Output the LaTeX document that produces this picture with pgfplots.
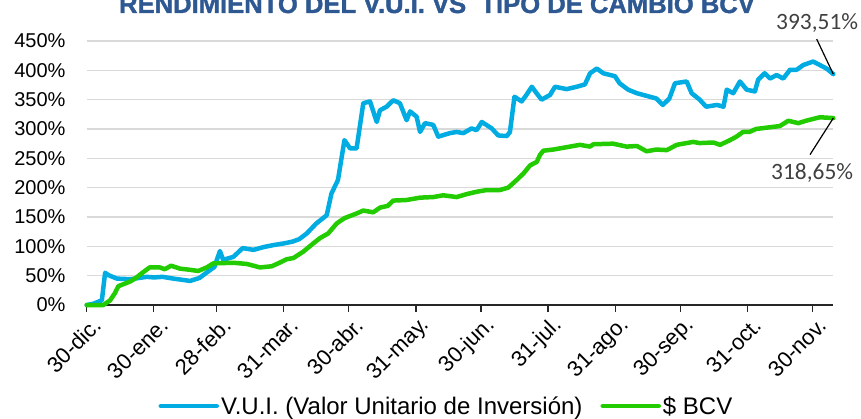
\documentclass[border=0pt]{standalone}
\usepackage{fontspec}
\setmainfont{Liberation Sans}
\newfontfamily\carlito{Carlito}
\newfontfamily\titlefont[FakeBold=1.5]{Liberation Sans Bold}
\usepackage{pgfplots}
\pgfplotsset{compat=1.18}
\definecolor{vuiblue}{RGB}{0,172,226}
\definecolor{bcvgreen}{RGB}{34,204,0}
\definecolor{titleblue}{RGB}{46,88,145}
\definecolor{gridgray}{RGB}{217,217,217}
\definecolor{annogray}{RGB}{64,64,64}
\begin{document}
\begin{tikzpicture}
\begin{axis}[
  at={(86.7pt,113pt)}, anchor=south west,
  scale only axis, width=746.6pt, height=264pt,
  xmin=0, xmax=344.7, ymin=0, ymax=450,
  clip=false,
  axis x line*=bottom, axis y line*=left,
  x axis line style={black!85, line width=1.4pt, -},
  y axis line style={draw=none},
  ymajorgrids, grid style={gridgray, line width=1.5pt},
  xtick={0,31,60,91,121,152,182,213,244,274,305,335},
  xticklabels={30-dic.,30-ene.,28-feb.,31-mar.,30-abr.,31-may.,30-jun.,31-jul.,31-ago.,30-sep.,31-oct.,30-nov.},
  ytick={0,50,100,150,200,250,300,350,400,450},
  yticklabels={0\%,50\%,100\%,150\%,200\%,250\%,300\%,350\%,400\%,450\%},
  tick align=outside, major tick length=7pt,
  xtick style={black!85, line width=1.2pt},
  ytick style={draw=none},
  tick label style={text=black},
  yticklabel style={font=\fontsize{20}{20}\selectfont, anchor=east, inner sep=0pt, xshift=-14pt},
  xticklabel style={font=\fontsize{22}{22}\selectfont, rotate=45, anchor=east, inner sep=0pt, yshift=-14.5pt, xshift=0.5pt},
  legend columns=2,
  legend style={at={(0.0959,-0.3826)}, anchor=west, draw=none, fill=none,
    inner sep=0pt, font=\fontsize{24}{24}\selectfont,
    /tikz/every even column/.append style={column sep=16pt}},
  legend image code/.code={\draw[#1, line cap=round] (0pt,0pt) -- (56pt,0pt);},
  every axis plot/.append style={line width=4.5pt, line join=round, line cap=round},
]
\addplot[vuiblue] coordinates {
(0,0) (3,2) (7,8) (8.5,55) (10,51) (13.9,45) (20,44) (24,46) (27.7,48) (31,47)
(35,48) (40,45) (44,43) (47.7,41) (52,46) (56,57) (59,65) (61.5,92) (63,77)
(67.7,82) (72,97) (77,94) (82,99) (86,102) (91,105) (95,108) (98,112) (101.6,122)
(106,139) (110.8,153) (113,190) (116,213) (119,281) (121.6,267) (124.6,267)
(127.7,344) (130.8,347) (133.9,312) (135.4,332) (138.5,338) (141.5,349) (144.6,344)
(147.7,315) (149.3,330) (152.3,321) (153.9,295) (156.2,310) (160,307) (162.3,287)
(167.7,293) (170.8,295) (173.9,293) (177.7,301) (180,298) (182.4,312) (187,301)
(190,289) (194,288) (195.4,295) (197.5,355) (200.8,347) (203,358) (205.5,372)
(207.5,362) (210,350) (213.9,358) (216.2,372) (221.6,368) (226.2,372) (230,376)
(232.4,395) (235.5,403) (238.5,395) (243.9,390) (246,378) (250,367) (254,361)
(260,355) (263,352) (266,341) (269,352) (271.6,378) (277,381) (279.3,361) (283,350)
(286,338) (291,341) (294,338) (295.5,367) (298.5,361) (301.6,381) (304.7,367)
(308.5,364) (310,384) (313,395) (315.5,386) (318.5,392) (321.6,386) (324.7,401)
(327.8,401) (330.8,409) (335.4,415) (338.5,409) (341.6,403) (344.7,393.51)
};
\addlegendentry{V.U.I. (Valor Unitario de Inversión)}
\addplot[bcvgreen] coordinates {
(0,0) (4,0) (7.7,0) (10.8,8) (13,20) (14.6,32) (20,40) (22.3,45) (25.4,54) (29,64)
(33.8,64) (36,61) (39,67) (43,62) (47.7,60) (51.5,58) (55.4,64) (58.5,71) (67.7,72)
(73.9,70) (80,64) (85.4,66) (89,72) (92.3,78) (95.4,80) (100,91) (104.6,105)
(107.7,114) (111.5,122) (115.4,139) (119,148) (124.6,156) (127.7,161) (132.3,158)
(135.4,166) (139,169) (141.5,178) (147.7,179) (153.9,183) (160,184) (164.6,187)
(170.8,184) (175.4,189) (180,193) (184.7,196) (190.8,196) (194.6,200) (198.5,213)
(201.6,224) (204.7,238) (207.8,244) (209.3,256) (210.8,263) (215.4,265) (221.6,269)
(227.7,273) (232.4,270) (233.9,274) (243,275) (249.3,270) (254,271) (258.5,262)
(263,265) (267.8,264) (272.4,273) (280,278) (283,276) (289.3,277) (292.4,273)
(297,281) (300,287) (303,295) (306,295) (309,300) (315.5,303) (320,305) (323.9,314)
(328.5,310) (333,315) (338.5,320) (344.7,318.65)
};
\addlegendentry{\$ BCV}
\draw[black, line width=1.2pt] (axis cs:344.7,393.51) -- ++(-16.6pt,35pt);
\node[anchor=base west, inner sep=0pt, text=annogray, font=\carlito\fontsize{23.4}{23.4}\selectfont]
  at ([xshift=-57.3pt,yshift=44.8pt]axis cs:344.7,393.51) {393,51\%};
\draw[black, line width=1.2pt] (axis cs:344.7,318.65) -- ++(-23.3pt,-36.6pt);
\node[anchor=base west, inner sep=0pt, text=annogray, font=\carlito\fontsize{23.4}{23.4}\selectfont]
  at ([xshift=-62.3pt,yshift=-61.9pt]axis cs:344.7,318.65) {318,65\%};
\end{axis}
\node[anchor=base, inner sep=0pt, text=titleblue, font=\titlefont\fontsize{25.6}{25.6}\selectfont]
  at (437pt,405pt) {RENDIMIENTO DEL V.U.I. VS\ \ TIPO DE CAMBIO BCV};
\pgfresetboundingbox
\path[use as bounding box] (0,0) rectangle (861pt,418pt);
\end{tikzpicture}
\end{document}
